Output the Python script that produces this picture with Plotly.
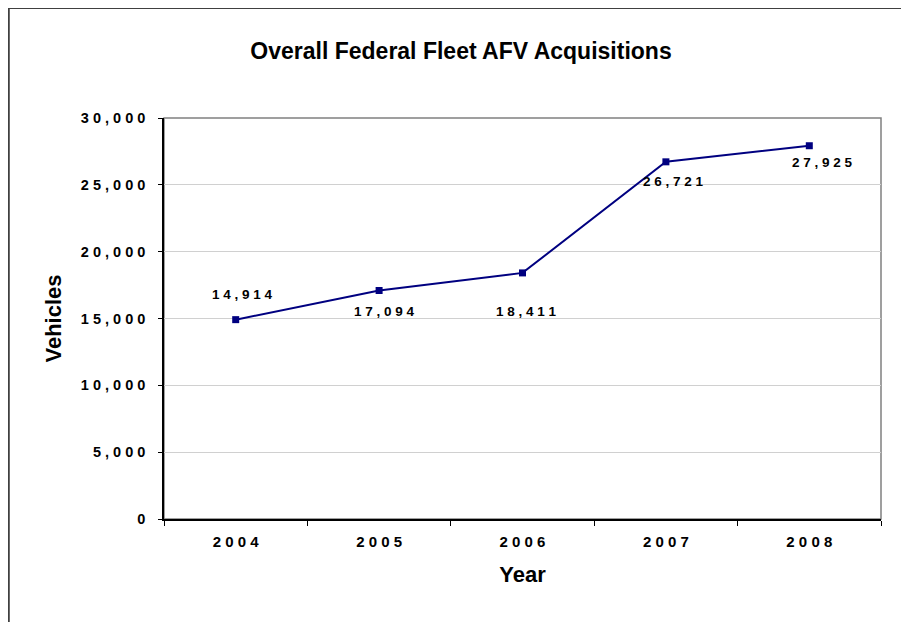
import plotly.graph_objects as go

# data
years = [2004, 2005, 2006, 2007, 2008]
vehicles = [14914, 17094, 18411, 26721, 27925]
ytick_vals = [0, 5000, 10000, 15000, 20000, 25000, 30000]
ytick_labels = ["0", "5,000", "10,000", "15,000", "20,000", "25,000", "30,000"]

# label nudges in pixels (x, y), per point
label_shift = [(7, 25), (5, -21), (4, -39), (8, -20), (13, -17)]

FONT = "Arial, Liberation Sans, sans-serif"
NAVY = "#000080"


def spaced(s):
    # the original chart renders its numbers with wide letter spacing
    return " ".join(s)


fig = go.Figure()
fig.add_scatter(
    x=years,
    y=vehicles,
    mode="lines+markers",
    line=dict(color=NAVY, width=2),
    marker=dict(symbol="square", size=7, color=NAVY),
    showlegend=False,
    hoverinfo="skip",
)

for yr, v, (dx, dy) in zip(years, vehicles, label_shift):
    fig.add_annotation(
        x=yr, y=v, text=spaced(f"{v:,}"), showarrow=False,
        xshift=dx, yshift=dy,
        font=dict(family=FONT, size=13.5, color="black", weight="bold"),
    )

# outer chart border (runs off the right and bottom of the picture)
fig.add_shape(type="rect", xref="paper", yref="paper",
              x0=-0.2165, x1=1.5, y0=-0.5, y1=1.2743,
              line=dict(color="#404040", width=2), layer="below")
# plot area frame
fig.add_shape(type="rect", xref="paper", yref="paper",
              x0=0, x1=1, y0=0, y1=1,
              line=dict(color="#808080", width=1.5), layer="below")

# page body has an 8px margin, so the figure is 8px smaller and margins shifted
fig.update_layout(
    width=901, height=614,
    margin=dict(l=156, r=28, t=110, b=103),
    paper_bgcolor="white", plot_bgcolor="white",
    font=dict(family=FONT, color="black"),
    title=dict(text="<b>Overall Federal Fleet AFV Acquisitions</b>",
               xref="container", x=453 / 901, xanchor="center",
               yref="container", y=1 - 43 / 614, yanchor="middle",
               font=dict(size=23, color="black")),
)

fig.update_xaxes(
    range=[2003.5, 2008.5],
    tickvals=years, ticktext=[spaced(str(y)) for y in years],
    ticks="", showgrid=False, zeroline=False,
    minor=dict(tickvals=[2003.5, 2004.5, 2005.5, 2006.5, 2007.5, 2008.5],
               ticks="outside", ticklen=5, tickcolor="black", tickwidth=1,
               showgrid=False),
    ticklabelstandoff=8,
    showline=True, linecolor="black", linewidth=1.5,
    tickfont=dict(size=15, weight="bold"),
    title=dict(text="<b>Year</b>", font=dict(size=22), standoff=18),
)

fig.update_yaxes(
    range=[0, 30000],
    tickvals=ytick_vals, ticktext=[spaced(t) for t in ytick_labels],
    ticks="outside", ticklen=4, tickcolor="black", tickwidth=1,
    ticklabelstandoff=10,
    showline=True, linecolor="black", linewidth=1.5,
    showgrid=True, gridcolor="#d0d0d0", gridwidth=1,
    zeroline=False,
    tickfont=dict(size=14.5, weight="bold"),
    title=dict(text="<b>Vehicles</b>", font=dict(size=22), standoff=13),
)

fig.write_html("out.html")
